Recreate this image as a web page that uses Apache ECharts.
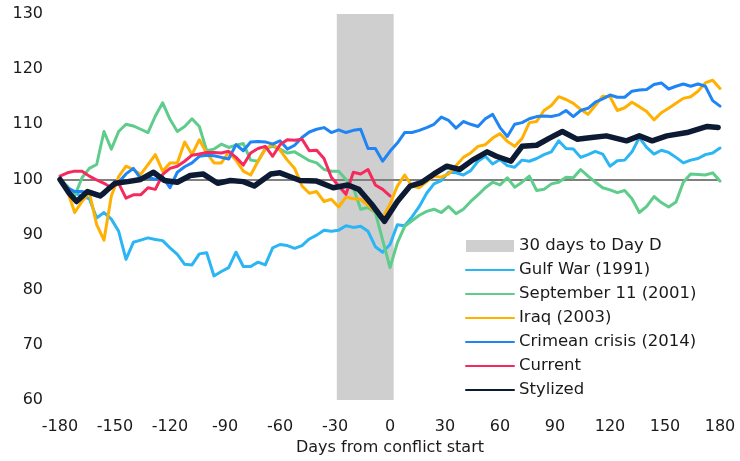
<!DOCTYPE html>
<html><head><meta charset="utf-8">
<script src="https://cdn.jsdelivr.net/npm/echarts@6/dist/echarts.min.js"></script>
<style>html,body{margin:0;padding:0;background:#fff}#c{width:740px;height:461px}</style>
</head><body><div id="c"></div>
<script>
const days = [-180,-176,-172,-168,-164,-160,-156,-152,-148,-144,-140,-136,-132,-128,-124,-120,-116,-112,-108,-104,-100,-96,-92,-88,-84,-80,-76,-72,-68,-64,-60,-56,-52,-48,-44,-40,-36,-32,-28,-24,-20,-16,-12,-8,-4,0,4,8,12,16,20,24,28,32,36,40,44,48,52,56,60,64,68,72,76,80,84,88,92,96,100,104,108,112,116,120,124,128,132,136,140,144,148,152,156,160,164,168,172,176,180];
const gulfWar = [100,98.5,97.5,97,96.5,93,94,92.8,90.6,85.5,88.6,89,89.4,89.1,88.9,87.6,86.4,84.6,84.5,86.5,86.7,82.5,83.3,84,86.8,84.2,84.2,85,84.5,87.6,88.2,88,87.5,88,89.2,89.9,90.8,90.6,90.8,91.6,91.3,91.5,90.6,87.8,86.8,88.2,91.8,91.6,93.2,95.1,97.5,99.2,99.8,101.3,101.2,100.8,101.6,103.3,104.2,102.8,103.6,102.5,102.2,103.5,103.3,103.8,104.5,105,107,105.6,105.5,104,104.5,105.1,104.6,102.4,103.4,103.5,105,107.6,105.8,104.6,105.3,104.9,104,103,103.5,103.8,104.5,104.8,105.7];
const september11 = [100,98.8,97,100.3,102,102.7,108.7,105.5,108.7,110,109.7,109.1,108.5,111.5,113.9,110.9,108.7,109.6,111,109.6,105.2,105.5,106.4,105.8,106.2,106.5,103.5,103.3,105.6,106,105.5,104.8,105,104.2,103.4,103,101.8,101.5,101.5,100,98.5,94.6,94.9,94,89,84,88.5,91.5,92.5,93.5,94.2,94.6,94,95.1,93.8,94.6,96,97.2,98.5,99.5,99,100.3,98.6,99.5,100.6,98,98.2,99.2,99.5,100.4,100.3,101.8,100.6,99.5,98.5,98.1,97.6,98,96.5,94,95.1,96.9,95.8,95,95.9,99.5,101,100.9,100.8,101.2,99.7];
const iraq = [100,98,94,96,97.6,91.8,89,97,100.5,102.4,101.8,100.9,102.7,104.5,101.5,103,103,106.8,104.5,107.2,104.8,103,103,104.9,103.5,101.5,100.8,103.3,105.5,106.4,105.3,103.5,102,98.8,97.5,97.8,96,96.4,95,96.8,96.5,96.4,95.3,94.2,93,95.5,98.8,100.8,98.8,98.5,99.6,100.6,100.4,101,102.5,104,104.8,106,106.3,107.5,108.3,106.9,106,107.4,110.3,110.5,112.5,113.4,115,114.5,113.8,112.7,111.8,113.4,115.1,115,112.5,113,114,113.2,112.3,110.8,112.1,112.9,113.8,114.7,115,116,117.5,118,116.5];
const crimea = [100,98.5,97.8,97.8,97.5,97,97.2,98.8,99.5,101,102,100.2,100.4,100,100.4,98.5,101.3,102.3,103,104.2,104.4,104.3,104,103.7,106.3,105.2,106.8,106.9,106.8,106.4,107,105.5,106.2,107.6,108.6,109.1,109.4,108.5,109,108.5,108.9,109.1,105.6,105.6,103.3,105.1,106.6,108.5,108.5,108.9,109.4,110,111.3,110.7,109.3,110.5,110,109.6,111,111.8,109.4,107.8,110,110.3,111,111.4,111.5,111.4,111.7,112.5,111.4,112.5,112.9,114,114.6,115.3,114.9,114.9,116,116.2,116.3,117.2,117.5,116.4,116.9,117.3,116.9,117.3,116.9,114.3,113.3];
const current = [100.6,101.2,101.5,101.5,100.6,99.9,99.3,98.5,99.3,96.6,97.2,97.2,98.5,98.2,100.9,102,102.4,103.3,104.4,104.6,104.9,104.9,104.8,105.1,104,102.6,104.8,105.6,106,104.2,106.3,107.2,107.1,107.3,105.2,105.3,103.8,100.4,98.8,97.3,101.3,101,101.8,99,98.2,97];
const stylizedDays = [-180,-175,-171,-165,-158,-150,-143,-136,-129,-123,-116,-109,-102,-94,-87,-80,-74,-65,-60,-49,-40,-31,-23,-17,-10,-3,4,11,17,24,31,38,45,53,58,66,72,80,87,94,102,110,118,129,136,143,151,162,173,179];
const stylized = [100,97.5,96,97.8,97,99.3,99.6,100,101.3,99.8,99.5,100.7,101,99.3,99.8,99.6,98.8,101,101.2,99.8,99.7,98.5,99,98.2,95.5,92.4,96,98.8,99.4,101,102.4,101.8,103.5,105,104.2,103.3,106,106.2,107.5,108.7,107.3,107.6,107.9,107,107.9,107,107.9,108.5,109.6,109.4];
const bandRange = [-29, 2];
const baseline = 100;

function pairs(xs, ys){ const out=[]; for(let i=0;i<ys.length;i++){ if(ys[i]!=null) out.push([xs[i], ys[i]]); } return out; }

const FONT = 'DejaVu Sans';
const chart = echarts.init(document.getElementById('c'), null, {renderer:'canvas'});
function lineSeries(name, color, data, width){
  return {name, type:'line', data, symbol:'none', showSymbol:false, z:2,
    lineStyle:{color, width, cap:'round', join:'round'}, itemStyle:{color}, emphasis:{disabled:true}};
}
chart.setOption({
  animation:false,
  textStyle:{fontFamily:FONT},
  grid:{left:60, right:20, top:14, bottom:61, containLabel:false},
  xAxis:{type:'value', min:-180, max:180, interval:30,
    name:'Days from conflict start', nameLocation:'middle', nameGap:39,
    nameTextStyle:{fontFamily:FONT, fontSize:16, color:'#1a1a1a'},
    axisLine:{show:false}, axisTick:{show:false}, splitLine:{show:false},
    axisLabel:{fontFamily:FONT, fontSize:16, color:'#1a1a1a', margin:19}},
  yAxis:{type:'value', min:60, max:130, interval:10,
    axisLine:{show:false}, axisTick:{show:false}, splitLine:{show:false},
    axisLabel:{fontFamily:FONT, fontSize:16, color:'#1a1a1a', margin:17}},
  legend:{orient:'vertical', left:465, top:237, itemWidth:48, itemHeight:12, itemGap:6, padding:0,
    textStyle:{fontFamily:FONT, fontSize:16.5, lineHeight:18, color:'#1a1a1a'},
    itemStyle:{opacity:0},
    data:[
      {name:'30 days to Day D', icon:'rect', itemStyle:{color:'#cfcfcf', opacity:1}},
      'Gulf War (1991)','September 11 (2001)','Iraq (2003)','Crimean crisis (2014)','Current','Stylized'
    ]},
  series:[
    {name:'30 days to Day D', type:'line', data:[], itemStyle:{color:'#cfcfcf'},
      markArea:{silent:true, z:1, itemStyle:{color:'#cfcfcf'}, data:[[{xAxis:bandRange[0]},{xAxis:bandRange[1]}]]},
      markLine:{silent:true, z:1, symbol:'none', label:{show:false}, lineStyle:{color:'#808080', width:2, type:'solid'}, data:[{yAxis:baseline}]}},
    lineSeries('Gulf War (1991)', '#2bb5f5', pairs(days, gulfWar), 3),
    lineSeries('September 11 (2001)', '#5ecc8a', pairs(days, september11), 3),
    lineSeries('Iraq (2003)', '#ffb000', pairs(days, iraq), 3),
    lineSeries('Crimean crisis (2014)', '#1f84f4', pairs(days, crimea), 3),
    lineSeries('Current', '#f6295e', pairs(days, current), 3),
    lineSeries('Stylized', '#0c1a33', pairs(stylizedDays, stylized), 5.5)
  ]
});
</script></body></html>
